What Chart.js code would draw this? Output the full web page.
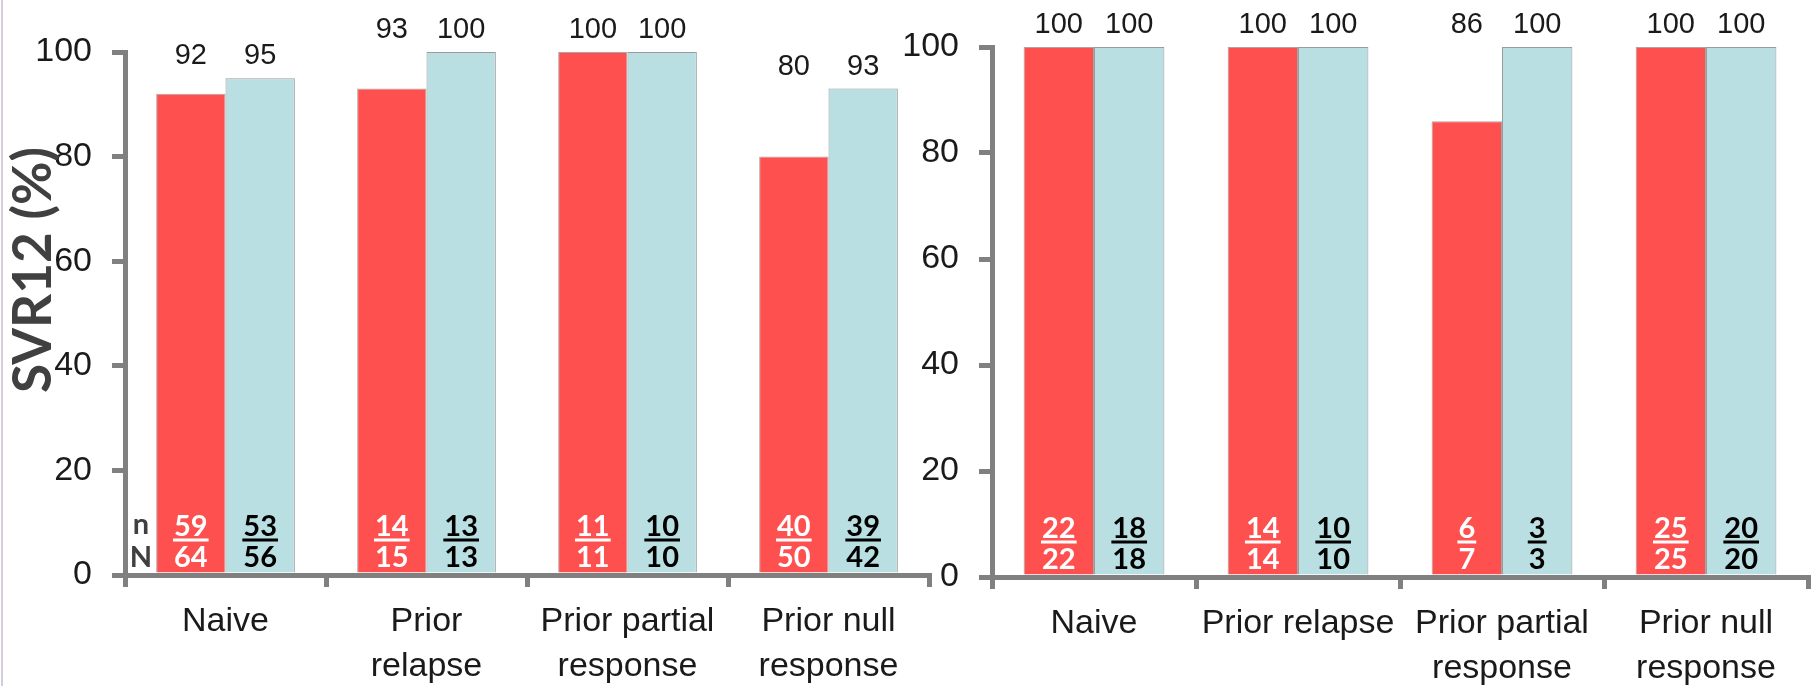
<!DOCTYPE html>
<html><head><meta charset="utf-8">
<script src="https://cdn.jsdelivr.net/npm/chart.js@4/dist/chart.umd.min.js"></script>
<style>
html,body{margin:0;padding:0;background:#fff;}
#wrap{position:relative;width:1813px;height:686px;overflow:hidden;background:#fff;}
#edge{position:absolute;left:1px;top:0;width:2px;height:686px;background:#d4ccda;}
#c1{position:absolute;left:0;top:0;}
#c2{position:absolute;left:890px;top:0;}
</style></head><body>
<div id="wrap"><div id="edge"></div>
<canvas id="c1" width="940" height="686"></canvas>
<canvas id="c2" width="923" height="686"></canvas>
</div>
<script>
// ---- data ----
const leftCategories = ['Naive', ['Prior', 'relapse'], ['Prior partial', 'response'], ['Prior null', 'response']];
const rightCategories = ['Naive', 'Prior relapse', ['Prior partial', 'response'], ['Prior null', 'response']];
const seriesNames = ['Group A', 'Group B'];
const leftRed = [92, 93, 100, 80];
const leftCyan = [95, 100, 100, 93];
const rightRed = [100, 100, 86, 100];
const rightCyan = [100, 100, 100, 100];
const leftRedN = [59, 14, 11, 40];
const leftRedD = [64, 15, 11, 50];
const leftCyanN = [53, 13, 10, 39];
const leftCyanD = [56, 13, 10, 42];
const rightRedN = [22, 14, 6, 25];
const rightRedD = [22, 14, 7, 25];
const rightCyanN = [18, 10, 3, 20];
const rightCyanD = [18, 10, 3, 20];
const yTicks = [0, 20, 40, 60, 80, 100];
const yTitle = 'SVR12 (%)';
const rowLabels = ['n', 'N'];

// ---- styles ----
const RED = '#FF5050', CYAN = '#B9DFE2', AXIS = '#808080', TXT = '#1a1a1a', DARK = '#404040';
const SANS = '"Liberation Sans", Arial, sans-serif';
const CAL = 'Lato, "Open Sans", sans-serif';

function annotPlugin(a, b, an, ad, bn, bd, showRows, showTitle) {
  return {
    id: 'annot',
    afterDatasetsDraw(chart) {
      const ctx = chart.ctx, y = chart.scales.y;
      const m0 = chart.getDatasetMeta(0), m1 = chart.getDatasetMeta(1);
      ctx.save();
      ctx.textAlign = 'center'; ctx.textBaseline = 'middle';
      ctx.font = '29px ' + SANS; ctx.fillStyle = TXT;
      for (let i = 0; i < a.length; i++) {
        const ly = y.getPixelForValue(Math.max(a[i], b[i])) - 22;
        ctx.fillText(String(a[i]), m0.data[i].x, ly);
        ctx.fillText(String(b[i]), m1.data[i].x, ly);
      }
      const base = y.getPixelForValue(0);
      const ny = base - 48, dy = base - 17, uy = base - 35;
      ctx.font = 'bold 29px ' + CAL;
      const frac = (x, n, d, col) => {
        ctx.fillStyle = col;
        ctx.fillText(String(n), x, ny);
        ctx.fillText(String(d), x, dy);
        const w = ctx.measureText(String(n)).width + 2;
        ctx.fillRect(x - w / 2, uy - 1.5, w, 3);
      };
      for (let i = 0; i < a.length; i++) {
        frac(m0.data[i].x, an[i], ad[i], '#ffffff');
        frac(m1.data[i].x, bn[i], bd[i], '#000000');
      }
      if (showRows) {
        ctx.fillStyle = DARK;
        const rx = chart.chartArea.left + 16;
        ctx.fillText(rowLabels[0], rx, ny - 2);
        ctx.fillText(rowLabels[1], rx, dy);
      }
      if (showTitle) {
        ctx.save();
        ctx.translate(34, 270);
        ctx.rotate(-Math.PI / 2);
        ctx.font = 'bold 53px ' + CAL;
        ctx.fillStyle = DARK;
        ctx.fillText(yTitle, 0, 0);
        ctx.restore();
      }
      ctx.restore();
    }
  };
}

function makeChart(id, cats, a, b, an, ad, bn, bd, opts) {
  const gridX = { drawOnChartArea: false, drawTicks: true, tickLength: 12, lineWidth: 5, color: AXIS, tickWidth: 5, tickColor: AXIS, offset: true,
                  borderWidth: 5, borderColor: AXIS, drawBorder: true };
  const gridY = { drawOnChartArea: false, drawTicks: true, tickLength: 13, lineWidth: 5, color: AXIS, tickWidth: 5, tickColor: AXIS,
                  borderWidth: 5, borderColor: AXIS, drawBorder: true };
  return new Chart(document.getElementById(id), {
    type: 'bar',
    data: {
      labels: cats,
      datasets: [
        { label: seriesNames[0], data: a, backgroundColor: RED, borderColor: 'rgba(130,130,130,0.7)', borderWidth: 1, borderSkipped: 'bottom' },
        { label: seriesNames[1], data: b, backgroundColor: CYAN, borderColor: 'rgba(130,130,130,0.8)', borderWidth: 1, borderSkipped: 'bottom' }
      ]
    },
    options: {
      responsive: false, animation: false, devicePixelRatio: 1,
      categoryPercentage: 0.69, barPercentage: 1.0,
      layout: { padding: { top: opts.top, right: opts.right, left: 0, bottom: 0 } },
      plugins: { legend: { display: false }, tooltip: { enabled: false } },
      scales: {
        x: {
          z: 1,
          ticks: { padding: 12, color: TXT, font: { family: SANS, size: 34, lineHeight: 1.32 }, maxRotation: 0, autoSkip: false },
          grid: gridX,
          border: { display: true, color: AXIS, width: 5 },
          afterFit(s) { s.height = opts.xh; }
        },
        y: {
          min: 0, max: 100,
          afterBuildTicks(s) { s.ticks = yTicks.map(v => ({ value: v })); },
          ticks: { padding: 20, color: TXT, font: { family: SANS, size: 34 } },
          grid: gridY,
          border: { display: true, color: AXIS, width: 5 },
          afterFit(s) { s.width = opts.yw; }
        }
      }
    },
    plugins: [annotPlugin(a, b, an, ad, bn, bd, opts.rows, opts.title)]
  });
}

makeChart('c1', leftCategories, leftRed, leftCyan, leftRedN, leftRedD, leftCyanN, leftCyanD,
  { top: 52, right: 11, xh: 111, yw: 125, rows: true, title: true });
makeChart('c2', rightCategories, rightRed, rightCyan, rightRedN, rightRedD, rightCyanN, rightCyanD,
  { top: 47, right: 5, xh: 109, yw: 102, rows: false, title: false });
</script>
</body></html>
